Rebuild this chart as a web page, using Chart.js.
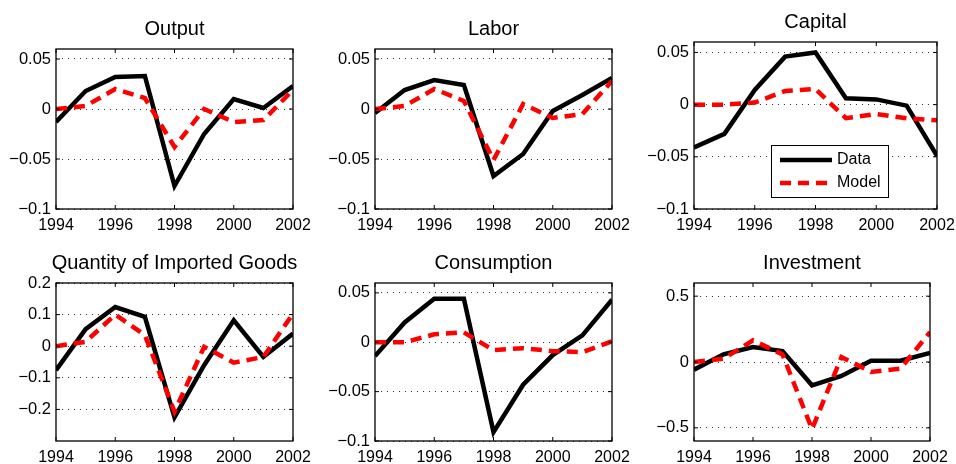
<!DOCTYPE html>
<html>
<head>
<meta charset="utf-8">
<script src="https://cdn.jsdelivr.net/npm/chart.js@4.4.0/dist/chart.umd.min.js"></script>
<style>
html, body { margin: 0; padding: 0; background: #fff; overflow: hidden; width: 956px; height: 464px; }
.panel { position: absolute; }
</style>
</head>
<body>
<script>
// years on the x axis and the labelled ones
const years = [1994, 1995, 1996, 1997, 1998, 1999, 2000, 2001, 2002];
const yearTicks = [1994, 1996, 1998, 2000, 2002];

// series
const outputData = [-0.013, 0.018, 0.032, 0.033, -0.077, -0.025, 0.010, 0.001, 0.023];
const outputModel = [0.000, 0.003, 0.020, 0.011, -0.038, 0.000, -0.013, -0.011, 0.019];
const laborData = [-0.004, 0.019, 0.029, 0.024, -0.067, -0.045, -0.002, 0.014, 0.031];
const laborModel = [0.000, 0.003, 0.020, 0.008, -0.051, 0.005, -0.009, -0.005, 0.028];
const capitalData = [-0.041, -0.028, 0.014, 0.046, 0.050, 0.006, 0.005, -0.001, -0.049];
const capitalModel = [0.000, 0.000, 0.002, 0.013, 0.015, -0.013, -0.009, -0.013, -0.015];
const importsData = [-0.076, 0.054, 0.124, 0.093, -0.225, -0.060, 0.082, -0.034, 0.040];
const importsModel = [0.000, 0.014, 0.100, 0.035, -0.207, -0.002, -0.052, -0.034, 0.103];
const consumptionData = [-0.014, 0.020, 0.044, 0.044, -0.091, -0.043, -0.013, 0.007, 0.043];
const consumptionModel = [0.000, 0.000, 0.008, 0.010, -0.008, -0.006, -0.009, -0.010, 0.001];
const investmentData = [-0.058, 0.058, 0.114, 0.083, -0.177, -0.106, 0.010, 0.010, 0.068];
const investmentModel = [0.000, 0.025, 0.164, 0.058, -0.510, 0.038, -0.076, -0.050, 0.227];

// y tick labels
const smallTicks = [-0.1, -0.05, 0, 0.05];
const importTicks = [-0.2, -0.1, 0, 0.1, 0.2];
const investTicks = [-0.5, 0, 0.5];

const seriesNames = ['Data', 'Model'];

const FONT = '"Liberation Sans", Arial, Helvetica, sans-serif';
const YAXIS_W = 56;
const XAXIS_H = 30;

// where each plot box sits on the page
const panels = [
    { title: 'Output', data: outputData, model: outputModel, yMin: -0.1, yMax: 0.06, yTicks: smallTicks,
      left: 56, top: 49, w: 237, h: 160, canvasTop: 0, titleY: 29.5 },
    { title: 'Labor', data: laborData, model: laborModel, yMin: -0.1, yMax: 0.06, yTicks: smallTicks,
      left: 375, top: 49, w: 237, h: 160, canvasTop: 0, titleY: 29.5 },
    { title: 'Capital', data: capitalData, model: capitalModel, yMin: -0.1, yMax: 0.06, yTicks: smallTicks,
      left: 694, top: 42, w: 243, h: 167, canvasTop: 0, titleY: 22.5, legend: true },
    { title: 'Quantity of Imported Goods', data: importsData, model: importsModel, yMin: -0.3, yMax: 0.2, yTicks: importTicks,
      left: 56, top: 283, w: 237, h: 158, canvasTop: 232, titleY: 263.5 },
    { title: 'Consumption', data: consumptionData, model: consumptionModel, yMin: -0.1, yMax: 0.06, yTicks: smallTicks,
      left: 375, top: 283, w: 237, h: 158, canvasTop: 232, titleY: 263.5 },
    { title: 'Investment', data: investmentData, model: investmentModel, yMin: -0.6, yMax: 0.6, yTicks: investTicks,
      left: 694, top: 283, w: 236, h: 158, canvasTop: 232, titleY: 263.5 }
];

// black frame round the plot with small inward ticks, like matlab
const boxPlugin = {
    id: 'box',
    afterDatasetsDraw(chart) {
        const a = chart.chartArea;
        const ctx = chart.ctx;
        ctx.save();
        ctx.strokeStyle = '#000';
        ctx.lineWidth = 1.3;
        ctx.setLineDash([]);
        ctx.strokeRect(a.left, a.top, a.right - a.left, a.bottom - a.top);
        ctx.lineWidth = 1;
        ctx.beginPath();
        chart.scales.x.ticks.forEach(t => {
            let px = chart.scales.x.getPixelForValue(t.value);
            ctx.moveTo(px, a.bottom); ctx.lineTo(px, a.bottom - 4);
            ctx.moveTo(px, a.top); ctx.lineTo(px, a.top + 4);
        });
        chart.scales.y.ticks.forEach(t => {
            let py = chart.scales.y.getPixelForValue(t.value);
            ctx.moveTo(a.left, py); ctx.lineTo(a.left + 4, py);
            ctx.moveTo(a.right, py); ctx.lineTo(a.right - 4, py);
        });
        ctx.stroke();
        ctx.restore();
    }
};

// boxed legend in the lower right of the capital panel
const boxLegend = {
    id: 'boxLegend',
    afterDraw(chart, args, opts) {
        if (!opts.show) return;
        const a = chart.chartArea;
        const ctx = chart.ctx;
        let bw = 117, bh = 52;
        let bx = a.right - 49 - bw, by = a.bottom - 12 - bh;
        ctx.save();
        ctx.fillStyle = '#fff';
        ctx.fillRect(bx, by, bw, bh);
        ctx.strokeStyle = '#000';
        ctx.lineWidth = 1;
        ctx.strokeRect(bx + 0.5, by + 0.5, bw, bh);
        chart.data.datasets.forEach((ds, i) => {
            let ly = by + 15 + i * 23;
            ctx.beginPath();
            ctx.strokeStyle = ds.borderColor;
            ctx.lineWidth = ds.borderWidth;
            ctx.setLineDash(ds.borderDash || []);
            ctx.moveTo(bx + 9, ly);
            ctx.lineTo(bx + 61, ly);
            ctx.stroke();
            ctx.setLineDash([]);
            ctx.fillStyle = '#000';
            ctx.font = '16px ' + FONT;
            ctx.textBaseline = 'middle';
            ctx.fillText(ds.label, bx + 66, ly);
        });
        ctx.restore();
    }
};

function fmt(v) {
    if (v === 0) return '0';
    return String(v).replace('-', '\u2212');
}

panels.forEach(function(p) {
    let div = document.createElement('div');
    div.className = 'panel';
    // an empty axis of the same width on the right keeps the title centred over the plot box
    let cw = YAXIS_W + p.w + YAXIS_W;
    let ch = (p.top - p.canvasTop) + p.h + XAXIS_H;
    div.style.left = (p.left - YAXIS_W) + 'px';
    div.style.top = p.canvasTop + 'px';
    div.style.width = cw + 'px';
    div.style.height = ch + 'px';
    let canvas = document.createElement('canvas');
    div.appendChild(canvas);
    document.body.appendChild(div);

    let titleSize = 20;
    let titleBox = titleSize * 1.2;
    let tc = p.titleY - p.canvasTop;

    new Chart(canvas.getContext('2d'), {
        type: 'line',
        data: {
            datasets: [{
                label: seriesNames[0],
                data: years.map((yr, i) => ({ x: yr, y: p.data[i] })),
                borderColor: '#000',
                borderWidth: 4.5,
                borderJoinStyle: 'miter',
                pointRadius: 0,
                tension: 0,
                order: 2
            }, {
                label: seriesNames[1],
                data: years.map((yr, i) => ({ x: yr, y: p.model[i] })),
                borderColor: '#ff0000',
                borderWidth: 4.5,
                borderDash: [11, 7],
                borderJoinStyle: 'miter',
                pointRadius: 0,
                tension: 0,
                order: 1
            }]
        },
        options: {
            responsive: true,
            maintainAspectRatio: false,
            animation: false,
            layout: { padding: 0 },
            plugins: {
                legend: { display: false },
                tooltip: { enabled: false },
                title: {
                    display: true,
                    text: p.title,
                    color: '#000',
                    font: { family: FONT, size: titleSize, weight: 'normal' },
                    padding: { top: tc - titleBox / 2, bottom: (p.top - p.titleY) - titleBox / 2 }
                },
                boxLegend: { show: !!p.legend }
            },
            scales: {
                x: {
                    type: 'linear',
                    min: 1994,
                    max: 2002,
                    afterBuildTicks: s => { s.ticks = yearTicks.map(v => ({ value: v })); },
                    afterFit: s => { s.height = XAXIS_H; },
                    grid: { display: false, drawTicks: false },
                    border: { display: false },
                    ticks: {
                        autoSkip: false,
                        maxRotation: 0,
                        padding: 7,
                        color: '#000',
                        font: { family: FONT, size: 16 },
                        callback: v => String(v)
                    }
                },
                y: {
                    type: 'linear',
                    min: p.yMin,
                    max: p.yMax,
                    afterBuildTicks: s => { s.ticks = p.yTicks.map(v => ({ value: v })); },
                    afterFit: s => { s.width = YAXIS_W; },
                    grid: { color: '#333', lineWidth: 1, drawTicks: false },
                    border: { display: false, dash: [1, 5] },
                    ticks: {
                        padding: 5,
                        color: '#000',
                        font: { family: FONT, size: 16.5 },
                        callback: v => fmt(v)
                    }
                },
                yRight: {
                    type: 'linear',
                    position: 'right',
                    min: p.yMin,
                    max: p.yMax,
                    afterFit: s => { s.width = YAXIS_W; },
                    grid: { display: false, drawTicks: false },
                    border: { display: false },
                    ticks: { display: false }
                }
            }
        },
        plugins: [boxPlugin, boxLegend]
    });
});
</script>
</body>
</html>
